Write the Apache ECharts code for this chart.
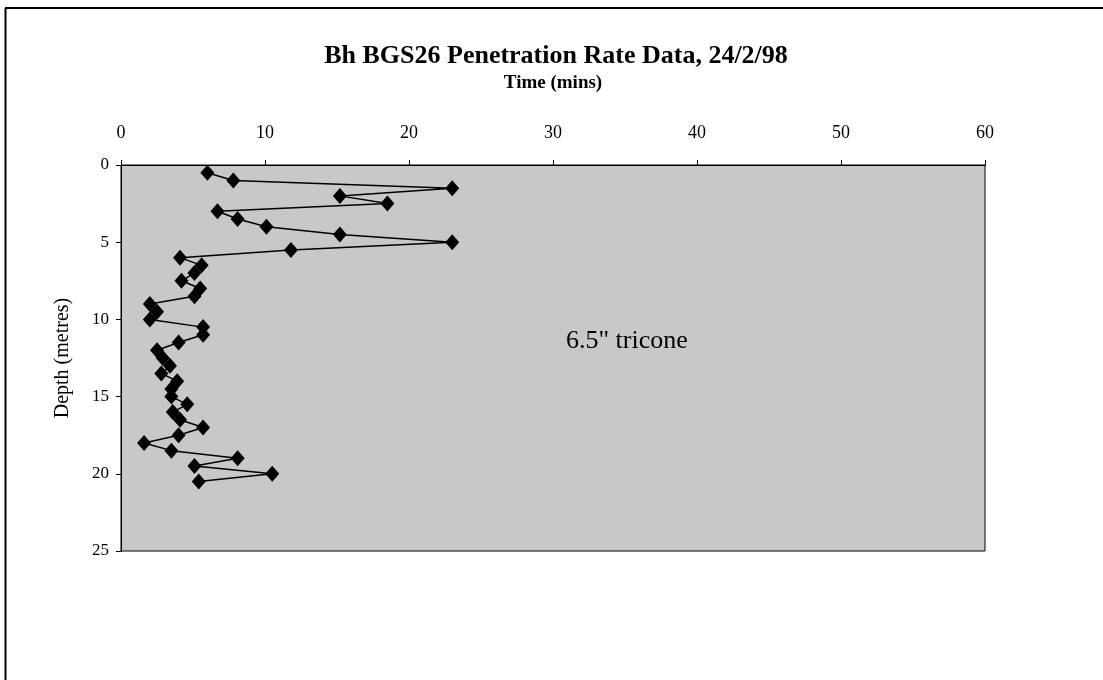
<!DOCTYPE html>
<html>
<head>
<meta charset="utf-8">
<script src="https://cdn.jsdelivr.net/npm/echarts@6/dist/echarts.min.js"></script>
<style>
  html, body { margin: 0; padding: 0; background: #fff; }
  #chart { width: 1103px; height: 680px; }
</style>
</head>
<body>
<div id="chart"></div>
<script>
// Depth (metres) and time (mins)
var depths = [0.5, 1.0, 1.5, 2.0, 2.5, 3.0, 3.5, 4.0, 4.5, 5.0,
              5.5, 6.0, 6.5, 7.0, 7.5, 8.0, 8.5, 9.0, 9.5, 10.0,
              10.5, 11.0, 11.5, 12.0, 12.5, 13.0, 13.5, 14.0, 14.5, 15.0,
              15.5, 16.0, 16.5, 17.0, 17.5, 18.0, 18.5, 19.0, 19.5, 20.0, 20.5];
var times = [6.0, 7.8, 23.0, 15.2, 18.5, 6.7, 8.1, 10.1, 15.2, 23.0,
             11.8, 4.1, 5.6, 5.1, 4.2, 5.5, 5.1, 2.0, 2.5, 2.0,
             5.7, 5.7, 4.0, 2.5, 2.9, 3.4, 2.8, 3.9, 3.5, 3.5,
             4.6, 3.6, 4.1, 5.7, 4.0, 1.6, 3.5, 8.1, 5.1, 10.5, 5.4];
var xTicks = [0, 10, 20, 30, 40, 50, 60];
var yTicks = [0, 5, 10, 15, 20, 25];

var data = depths.map(function (d, i) { return [times[i], d]; });
var serif = '"Liberation Serif", "DejaVu Serif", serif';

var chart = echarts.init(document.getElementById('chart'), null, { renderer: 'canvas' });
chart.setOption({
  backgroundColor: '#ffffff',
  animation: false,
  title: {
    text: 'Bh BGS26 Penetration Rate Data, 24/2/98',
    left: 551, top: 38, textAlign: 'center',
    textStyle: { fontFamily: serif, fontSize: 26, fontWeight: 'bold', color: '#000' }
  },
  grid: {
    left: 121, top: 165, right: 118, bottom: 129,
    show: true, backgroundColor: '#c8c8c8', borderColor: '#000', borderWidth: 1
  },
  xAxis: {
    type: 'value', position: 'top', min: 0, max: 60, interval: 10,
    name: 'Time (mins)', nameLocation: 'middle', nameGap: 72,
    nameTextStyle: { fontFamily: serif, fontSize: 19, fontWeight: 'bold', color: '#000' },
    axisLine: { show: true, lineStyle: { color: '#000', width: 1 } },
    axisTick: { show: true, length: 5, lineStyle: { color: '#000' } },
    axisLabel: { fontFamily: serif, fontSize: 18, color: '#000', margin: 23,
                 formatter: function (v) { return xTicks.indexOf(v) >= 0 ? String(v) : ''; } },
    splitLine: { show: false }
  },
  yAxis: {
    type: 'value', inverse: true, min: 0, max: 25, interval: 5,
    name: 'Depth (metres)', nameLocation: 'middle', nameGap: 48, nameRotate: 90,
    nameTextStyle: { fontFamily: serif, fontSize: 20, color: '#000' },
    axisLine: { show: true, lineStyle: { color: '#000', width: 1 } },
    axisTick: { show: true, length: 5, lineStyle: { color: '#000' } },
    axisLabel: { fontFamily: serif, fontSize: 17, color: '#000', margin: 12,
                 formatter: function (v) { return yTicks.indexOf(v) >= 0 ? String(v) : ''; } },
    splitLine: { show: false }
  },
  graphic: [
    { type: 'line', shape: { x1: 5.5, y1: 8, x2: 5.5, y2: 680 }, style: { stroke: '#000', lineWidth: 2 } },
    { type: 'line', shape: { x1: 5, y1: 8, x2: 1103, y2: 8 }, style: { stroke: '#000', lineWidth: 2 } },
    { type: 'text', left: 566, top: 328, style: { text: '6.5" tricone', font: '26px ' + serif, fill: '#000' } }
  ],
  series: [{
    type: 'line',
    data: data,
    symbol: 'diamond',
    symbolSize: [14, 16],
    itemStyle: { color: '#000' },
    lineStyle: { color: '#000', width: 1.5 }
  }]
});
</script>
</body>
</html>
